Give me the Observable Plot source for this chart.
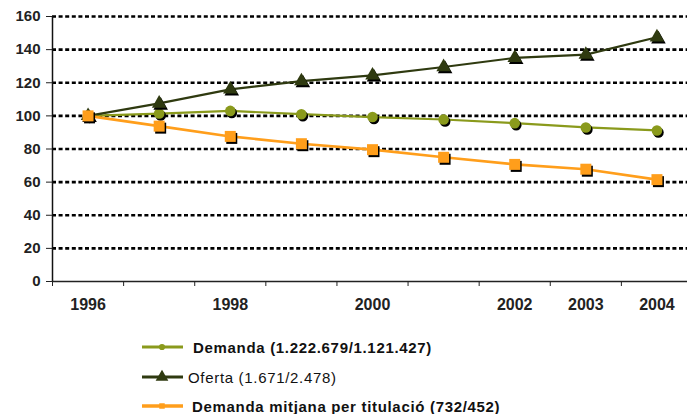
<!DOCTYPE html>
<html>
<head>
<meta charset="utf-8">
<script src="https://cdn.jsdelivr.net/npm/d3@7"></script>
<script src="https://cdn.jsdelivr.net/npm/@observablehq/plot@0.6"></script>
<style>
  html, body { margin: 0; padding: 0; background: #fff; }
  #wrap { position: relative; width: 687px; height: 414px; overflow: hidden; font-family: "Liberation Sans", Arial, sans-serif; }
  #legend { position: absolute; left: 0; top: 320px; width: 687px; height: 94px; }
  .row { position: absolute; left: 140px; height: 20px; display: flex; align-items: center; white-space: nowrap; }
  .row svg { display: block; }
  .row span { font-size: 15px; letter-spacing: 0.68px; color: #111; }
</style>
</head>
<body>
<div id="wrap">
  <div id="chart"></div>
  <div id="legend"></div>
</div>
<script>
const years = ["1996", "1997", "1998", "1999", "2000", "2001", "2002", "2003", "2004"];
const tickLabels = ["1996", "", "1998", "", "2000", "", "2002", "2003", "2004"];
const demanda = [100, 101.4, 103, 101, 99.3, 97.8, 95.6, 93, 91.2];
const oferta = [100, 107.5, 116, 121, 124.5, 129.5, 135, 137, 147.5];
const mitjana = [100, 93.8, 87.6, 83.2, 79.6, 75, 70.7, 67.8, 61.5];
const yTicks = [0, 20, 40, 60, 80, 100, 120, 140, 160];
const gridValues = [20, 40, 60, 80, 100, 120, 140, 160];

const seriesNames = ["Demanda (1.222.679/1.121.427)", "Oferta (1.671/2.478)", "Demanda mitjana per titulació (732/452)"];
const seriesColors = ["#8a9a1c", "#2f3a10", "#ff9e1b"];
const seriesSymbols = ["circle", "triangle", "square"];
const seriesR = [5.3, 5.4, 6.2];
const seriesWidth = [2.2, 2.2, 2.6];
const seriesValues = [demanda, oferta, mitjana];

const idx = years.map((_, i) => i);
const rows = seriesValues.map((vals, s) => idx.map(i => ({i, v: vals[i], s})));
const boundaries = d3.range(-0.5, 8, 1);

const marks = [
  Plot.ruleY(gridValues, {x1: -0.5, x2: 8.5, y: d => d, stroke: "#000", strokeWidth: 2.6, strokeDasharray: "4,2.6"}),
  Plot.ruleY([0], {x1: -0.5, x2: 8.5, stroke: "#222", strokeWidth: 1.4}),
  Plot.ruleX([-0.5], {y1: 0, y2: 160, stroke: "#111", strokeWidth: 1.5}),
  Plot.axisY({ticks: yTicks, tickSize: 6, tickPadding: 6, fontSize: 15, fontWeight: "bold", fill: "#222", stroke: "#222", label: null, tickFormat: d => String(d)}),
  Plot.axisX({ticks: boundaries, tickSize: 5, tickFormat: () => "", stroke: "#222", label: null}),
  Plot.axisX({ticks: idx, tickSize: 0, tickPadding: 17, tickFormat: i => tickLabels[i], fontSize: 16, fontWeight: "bold", fill: "#222", label: null})
];
rows.forEach((r, s) => {
  marks.push(Plot.line(r, {x: "i", y: "v", stroke: seriesColors[s], strokeWidth: seriesWidth[s]}));
});
rows.forEach((r, s) => {
  marks.push(Plot.dot(r, {x: "i", y: "v", symbol: seriesSymbols[s], r: seriesR[s], fill: "#000", dx: 1.5, dy: 2}));
  marks.push(Plot.dot(r, {x: "i", y: "v", symbol: seriesSymbols[s], r: seriesR[s], fill: seriesColors[s]}));
});

const plot = Plot.plot({
  width: 687,
  height: 320,
  marginLeft: 52,
  marginTop: 16,
  marginBottom: 39,
  marginRight: 0,
  x: {type: "linear", domain: [-0.5, 8.5], range: [52, 692], axis: null},
  y: {domain: [0, 160], axis: null},
  style: {fontFamily: "'Liberation Sans', Arial, sans-serif", background: "#fff", overflow: "hidden"},
  marks
});
document.getElementById("chart").appendChild(plot);

// legend
const legendTops = [337, 367, 396];
const legendTextLeft = [53, 48, 52];
const legendWeight = ["bold", "normal", "bold"];
const legend = document.getElementById("legend");
seriesNames.forEach((name, s) => {
  const row = document.createElement("div");
  row.className = "row";
  row.style.top = (legendTops[s] - 320) + "px";
  const sym = d3.symbol(d3["symbol" + seriesSymbols[s][0].toUpperCase() + seriesSymbols[s].slice(1)], s === 1 ? 70 : 30)();
  const svg = `<svg width="${legendTextLeft[s]}" height="20"><line x1="2" x2="43" y1="10" y2="10" stroke="${seriesColors[s]}" stroke-width="${s === 2 ? 3.5 : 3}"/><path d="${sym}" transform="translate(22,10)" fill="${seriesColors[s]}"/></svg>`;
  row.innerHTML = svg + `<span style="font-weight:${legendWeight[s]}">${name}</span>`;
  legend.appendChild(row);
});
</script>
</body>
</html>
